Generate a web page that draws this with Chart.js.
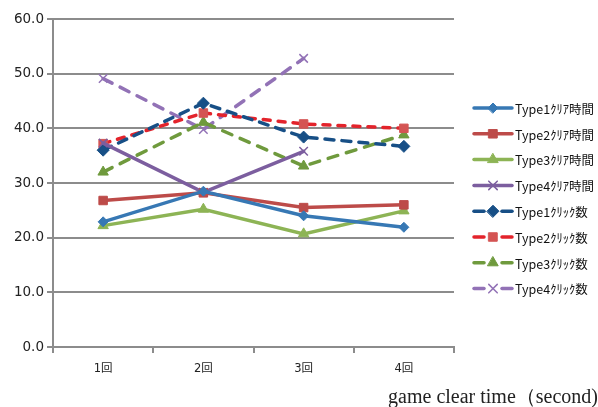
<!DOCTYPE html>
<html>
<head>
<meta charset="utf-8">
<script src="https://cdn.jsdelivr.net/npm/chart.js@4/dist/chart.umd.min.js"></script>
<style>
  html, body { margin: 0; padding: 0; background: #ffffff; }
  #c { display: block; }
</style>
</head>
<body>
<canvas id="c" width="598" height="407"></canvas>
<script>
// Rounds played
const categories = ['1回', '2回', '3回', '4回'];

// Clear time per round (seconds)
const type1Clear = [22.9, 28.5, 24.0, 21.9];
const type2Clear = [26.8, 28.2, 25.5, 26.0];
const type3Clear = [22.2, 25.2, 20.7, 24.9];
const type4Clear = [37.3, 28.3, 35.8, null];

// Click counts per round
const type1Click = [36.0, 44.6, 38.4, 36.7];
const type2Click = [37.2, 42.8, 40.8, 40.0];
const type3Click = [32.0, 41.1, 33.1, 38.8];
const type4Click = [49.1, 39.8, 52.8, null];

const seriesNames = [
  'Type1ｸﾘｱ時間', 'Type2ｸﾘｱ時間', 'Type3ｸﾘｱ時間', 'Type4ｸﾘｱ時間',
  'Type1ｸﾘｯｸ数', 'Type2ｸﾘｯｸ数', 'Type3ｸﾘｯｸ数', 'Type4ｸﾘｯｸ数'
];

const axisTitle = 'game clear time（second)';

function series(label, data, line, marker, style, radius, dash) {
  return {
    label, data,
    borderColor: line,
    backgroundColor: marker,
    pointBackgroundColor: marker,
    pointBorderColor: marker,
    pointStyle: style,
    pointRadius: radius,
    pointHoverRadius: radius,
    pointBorderWidth: style === 'crossRot' ? 1.5 : 1,
    borderWidth: 3.5,
    borderDash: dash,
    borderCapStyle: 'round',
    tension: 0,
    spanGaps: false
  };
}

const datasets = [
  series(seriesNames[0], type1Clear, '#3778b4', '#3778b4', 'rectRot', 5, []),
  series(seriesNames[1], type2Clear, '#bd4b49', '#bd4b49', 'rect', 6, []),
  series(seriesNames[2], type3Clear, '#8db455', '#8db455', 'triangle', 6, []),
  series(seriesNames[3], type4Clear, '#7c5e9f', '#7c5e9f', 'crossRot', 6, []),
  series(seriesNames[4], type1Click, '#174f86', '#174f86', 'rectRot', 6, [9, 8]),
  series(seriesNames[5], type2Click, '#e3232b', '#d45453', 'rect', 6, [7, 8]),
  series(seriesNames[6], type3Click, '#6f9a3d', '#6f9a3d', 'triangle', 6, [10, 9]),
  series(seriesNames[7], type4Click, '#9272b6', '#9272b6', 'crossRot', 6, [10, 9])
];

// Legend on the right: short line with marker, then label
const sideLegend = {
  id: 'sideLegend',
  afterDraw(chart) {
    const ctx = chart.ctx;
    const x0 = 474, x1 = 512, top = 108, gap = 25.8;
    chart.data.datasets.forEach((ds, i) => {
      const y = top + i * gap;
      ctx.save();
      ctx.strokeStyle = ds.borderColor;
      ctx.lineWidth = 3.5;
      ctx.lineCap = 'round';
      if (ds.borderDash.length) {
        ctx.beginPath(); ctx.moveTo(x0, y); ctx.lineTo(x0 + 10, y); ctx.stroke();
        ctx.beginPath(); ctx.moveTo(x1 - 10, y); ctx.lineTo(x1, y); ctx.stroke();
      } else {
        ctx.beginPath(); ctx.moveTo(x0, y); ctx.lineTo(x1, y); ctx.stroke();
      }
      ctx.fillStyle = ds.pointBackgroundColor;
      ctx.strokeStyle = ds.pointBorderColor;
      ctx.lineWidth = ds.pointBorderWidth;
      Chart.helpers.drawPoint(ctx, {
        pointStyle: ds.pointStyle, radius: ds.pointRadius, rotation: 0,
        borderWidth: ds.pointBorderWidth
      }, (x0 + x1) / 2, y);
      ctx.fillStyle = '#111111';
      ctx.font = '12.5px "Noto Sans CJK JP", "Noto Sans", sans-serif';
      ctx.textBaseline = 'middle';
      ctx.textAlign = 'left';
      ctx.fillText(ds.label, 515, y + 1);
      ctx.restore();
    });
  }
};

// Axis caption set at the bottom-right corner of the canvas
const cornerCaption = {
  id: 'cornerCaption',
  afterDraw(chart) {
    const ctx = chart.ctx;
    ctx.save();
    ctx.fillStyle = '#222222';
    ctx.font = '20px "Liberation Serif", "DejaVu Serif", serif';
    ctx.textAlign = 'right';
    ctx.textBaseline = 'alphabetic';
    ctx.fillText(axisTitle, chart.width, chart.height - 4);
    ctx.restore();
  }
};

new Chart(document.getElementById('c'), {
  type: 'line',
  data: { labels: categories, datasets },
  options: {
    responsive: false,
    animation: false,
    devicePixelRatio: 1,
    layout: { padding: { top: 19, right: 144, left: 0, bottom: 24 } },
    plugins: {
      legend: { display: false },
      tooltip: { enabled: false }
    },
    scales: {
      x: {
        offset: true,
        grid: {
          offset: true,
          drawOnChartArea: false,
          drawTicks: true,
          tickLength: 6,
          color: '#8c8c8c',
          lineWidth: 2
        },
        border: { color: '#8c8c8c', width: 2 },
        ticks: {
          color: '#222222',
          padding: 9,
          font: { family: '"DejaVu Sans", "Noto Sans CJK JP", sans-serif', size: 11.5 }
        },
        afterFit(scale) { scale.height = 36; }
      },
      y: {
        min: 0,
        max: 60,
        ticks: {
          stepSize: 10,
          color: '#222222',
          padding: 3,
          font: { family: '"DejaVu Sans", sans-serif', size: 13.5 },
          callback: v => v.toFixed(1)
        },
        grid: { color: '#8c8c8c', lineWidth: 2, tickLength: 6 },
        border: { color: '#8c8c8c', width: 2 },
        afterFit(scale) { scale.width = 53; }
      }
    }
  },
  plugins: [sideLegend, cornerCaption]
});
</script>
</body>
</html>
